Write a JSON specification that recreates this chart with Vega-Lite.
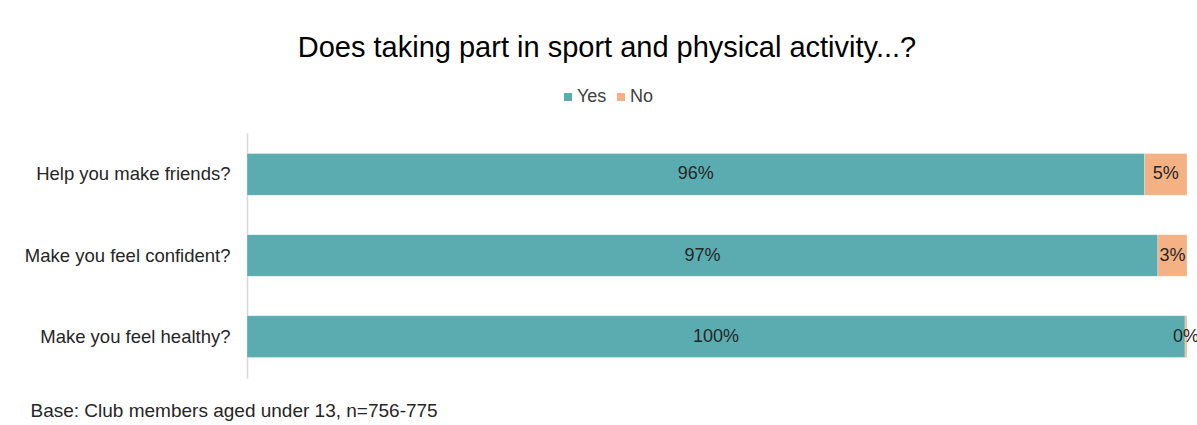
{
  "$schema": "https://vega.github.io/schema/vega-lite/v6.json",
  "autosize": {"type": "none"},
  "width": 940,
  "height": 245,
  "padding": {"left": 247, "top": 133, "right": 10, "bottom": 47},
  "background": "white",
  "config": {
    "font": "Liberation Sans",
    "view": {"stroke": null}
  },
  "title": {
    "text": "Does taking part in sport and physical activity...?",
    "fontSize": 29,
    "fontWeight": "normal",
    "color": "#000000",
    "anchor": "middle",
    "frame": "group",
    "dx": -110,
    "offset": 25
  },
  "data": {
    "values": [
      {"question": "Help you make friends?", "answer": "Yes", "order": 1, "value": 95.5, "label": "96%"},
      {"question": "Help you make friends?", "answer": "No", "order": 2, "value": 4.5, "label": "5%"},
      {"question": "Make you feel confident?", "answer": "Yes", "order": 1, "value": 96.9, "label": "97%"},
      {"question": "Make you feel confident?", "answer": "No", "order": 2, "value": 3.1, "label": "3%"},
      {"question": "Make you feel healthy?", "answer": "Yes", "order": 1, "value": 99.8, "label": "100%"},
      {"question": "Make you feel healthy?", "answer": "No", "order": 2, "value": 0.2, "label": "0%"}
    ]
  },
  "transform": [
    {"stack": "value", "groupby": ["question"], "sort": [{"field": "order"}], "as": ["v0", "v1"]},
    {"calculate": "(datum.v0 + datum.v1) / 2", "as": "mid"}
  ],
  "encoding": {
    "y": {
      "field": "question",
      "type": "nominal",
      "sort": null,
      "scale": {"paddingInner": 0.485, "paddingOuter": 0.254},
      "axis": {
        "title": null,
        "ticks": false,
        "labelFontSize": 18.5,
        "labelColor": "#262626",
        "labelPadding": 17,
        "domainColor": "#D9D9D9",
        "domainWidth": 1.5,
        "labelLimit": 400
      }
    }
  },
  "layer": [
    {
      "mark": {"type": "bar", "stroke": "#ffffff", "strokeOpacity": 0.6, "strokeWidth": 0.5},
      "encoding": {
        "x": {
          "field": "v0",
          "type": "quantitative",
          "scale": {"domain": [0, 100], "nice": false},
          "axis": {
            "domain": false,
            "labels": false,
            "ticks": false,
            "grid": false,
            "title": "Base: Club members aged under 13, n=756-775",
            "titleFontSize": 19,
            "titleFontWeight": "normal",
            "titleColor": "#262626",
            "titleAnchor": "start",
            "titleAlign": "left",
            "titleBaseline": "alphabetic",
            "titleX": -217,
            "titleY": 38
          }
        },
        "x2": {"field": "v1"},
        "color": {
          "field": "answer",
          "type": "nominal",
          "scale": {"domain": ["Yes", "No"], "range": ["#5BACB0", "#F4B183"]},
          "legend": {
            "title": null,
            "orient": "none",
            "direction": "horizontal",
            "legendX": 312,
            "legendY": -45,
            "symbolType": "square",
            "symbolSize": 64,
            "symbolStrokeWidth": 0,
            "labelFontSize": 18,
            "labelColor": "#404040",
            "labelOffset": 0,
            "columnPadding": 5
          }
        }
      }
    },
    {
      "mark": {"type": "text", "fontSize": 18, "color": "#262626", "align": "center", "baseline": "middle"},
      "encoding": {
        "x": {"field": "mid", "type": "quantitative"},
        "text": {"field": "label", "type": "nominal"}
      }
    }
  ]
}
